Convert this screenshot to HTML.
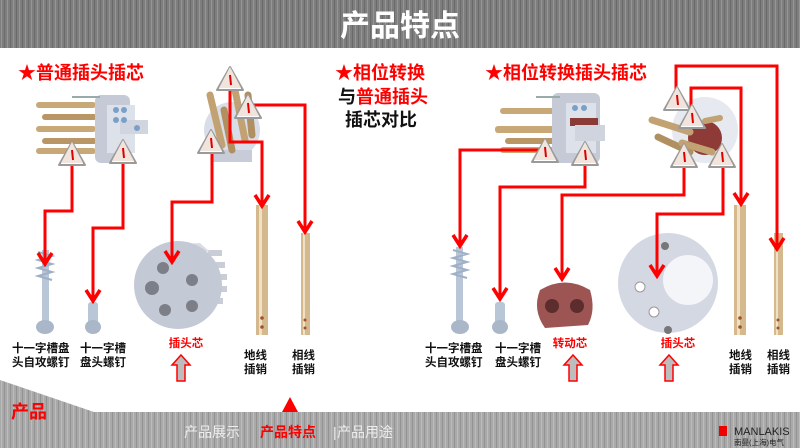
<!DOCTYPE html>
<html><head><meta charset="utf-8"><style>
html,body{margin:0;padding:0;width:800px;height:448px;overflow:hidden;background:#fff}
svg{display:block}
text{font-family:"Liberation Sans","Noto Sans CJK SC",sans-serif}
</style></head><body>
<svg width="800" height="448" viewBox="0 0 800 448" xmlns="http://www.w3.org/2000/svg">
<defs>
<pattern id="brush" width="6" height="48" patternUnits="userSpaceOnUse">
<rect width="6" height="48" fill="#7e7e7e"/>
<rect x="1" width="1" height="48" fill="#959595"/>
<rect x="4" width="1" height="48" fill="#6a6a6a"/>
</pattern>
<pattern id="brush2" width="6" height="48" patternUnits="userSpaceOnUse">
<rect width="6" height="48" fill="#a9a9a9"/>
<rect x="1" width="1" height="48" fill="#bcbcbc"/>
<rect x="4" width="1" height="48" fill="#939393"/>
</pattern>
<g id="warn"><path d="M0,-13 L13,10 L-13,10 Z" fill="#fff" stroke="#9a9a9a" stroke-width="2" stroke-linejoin="round"/><path d="M0,-13 L11,8 L-11,8 Z" fill="#f1e4dc"/><line x1="0" y1="-5" x2="1" y2="5" stroke="#d00" stroke-width="2"/></g>
</defs>

<!-- header -->
<rect x="0" y="0" width="800" height="48" fill="url(#brush)"/>
<text x="400" y="36" text-anchor="middle" font-size="30" font-weight="bold" fill="#fff">产品特点</text>

<!-- footer -->
<path d="M0,380 L94,412 L800,412 L800,448 L0,448 Z" fill="url(#brush2)"/>
<text x="11" y="418" font-size="18" font-weight="bold" fill="#f00">产品</text>
<path d="M290,397 L298,412 L282,412 Z" fill="#f00"/>
<text x="184" y="437" font-size="14" fill="#eee">产品展示</text>
<text x="260" y="437" font-size="14" font-weight="bold" fill="#f00">产品特点</text>
<text x="333" y="437" font-size="14" fill="#eee">|</text>
<text x="337" y="437" font-size="14" fill="#eee">产品用途</text>
<rect x="719" y="426" width="8" height="10" fill="#e00"/>
<text x="734" y="435" font-size="11" fill="#222">MANLAKIS</text>
<text x="734" y="445" font-size="7.5" fill="#222">南曼(上海)电气</text>

<!-- titles -->
<text x="18" y="79" font-size="18" font-weight="bold" fill="#f00">★普通插头插芯</text>
<text x="335" y="79" font-size="18" font-weight="bold" fill="#f00">★相位转换</text>
<text x="338" y="103" font-size="18" font-weight="bold" fill="#f00"><tspan fill="#111">与</tspan>普通插头</text>
<text x="345" y="126" font-size="18" font-weight="bold" fill="#111">插芯对比</text>
<text x="485" y="79" font-size="18" font-weight="bold" fill="#f00">★相位转换插头插芯</text>

<!-- LEFT top plug -->
<g>
<rect x="36" y="102" width="60" height="6" rx="3" fill="#c9a878"/>
<rect x="42" y="114" width="55" height="6" rx="3" fill="#b99665"/>
<rect x="36" y="126" width="60" height="6" rx="3" fill="#c9a878"/>
<rect x="42" y="138" width="55" height="6" rx="3" fill="#b99665"/>
<rect x="36" y="148" width="60" height="6" rx="3" fill="#c9a878"/>
<rect x="95" y="95" width="35" height="68" rx="6" fill="#c5cad6"/>
<rect x="107" y="105" width="28" height="48" fill="#dde1ea"/>
<rect x="120" y="120" width="28" height="14" fill="#d0d5e0"/>
<circle cx="116" cy="110" r="3" fill="#7aa0c8"/><circle cx="124" cy="110" r="3" fill="#7aa0c8"/>
<circle cx="116" cy="120" r="3" fill="#7aa0c8"/><circle cx="124" cy="120" r="3" fill="#7aa0c8"/>
<circle cx="137" cy="128" r="3" fill="#7aa0c8"/>
<line x1="72" y1="97" x2="100" y2="97" stroke="#9aa" stroke-width="2"/>
</g>
<!-- LEFT round plug -->
<g>
<circle cx="232" cy="130" r="28" fill="#d8dde8"/>
<rect x="212" y="150" width="40" height="12" fill="#c8ccd8"/>
<line x1="210" y1="95" x2="222" y2="145" stroke="#c2a273" stroke-width="7" stroke-linecap="round"/>
<line x1="224" y1="110" x2="232" y2="150" stroke="#b08f60" stroke-width="7" stroke-linecap="round"/>
<line x1="235" y1="90" x2="245" y2="140" stroke="#c2a273" stroke-width="7" stroke-linecap="round"/>
<line x1="248" y1="95" x2="252" y2="135" stroke="#b08f60" stroke-width="7" stroke-linecap="round"/>
</g>

<!-- RIGHT top plug -->
<g>
<rect x="500" y="108" width="55" height="6" rx="3" fill="#c9a878"/>
<rect x="495" y="126" width="60" height="7" rx="3" fill="#c9a878"/>
<rect x="505" y="138" width="50" height="6" rx="3" fill="#b99665"/>
<rect x="500" y="147" width="55" height="6" rx="3" fill="#c9a878"/>
<rect x="552" y="93" width="48" height="70" rx="6" fill="#c5cad6"/>
<rect x="566" y="103" width="30" height="50" fill="#dde1ea"/>
<rect x="570" y="118" width="28" height="8" fill="#8a3b35"/>
<rect x="575" y="125" width="30" height="16" fill="#cfd4df"/>
<circle cx="575" cy="108" r="3" fill="#7aa0c8"/><circle cx="584" cy="108" r="3" fill="#7aa0c8"/>
<line x1="536" y1="97" x2="560" y2="97" stroke="#9aa" stroke-width="2"/>
</g>
<!-- RIGHT round plug -->
<g>
<circle cx="705" cy="130" r="33" fill="#e6e9f0"/>
<circle cx="705" cy="138" r="17" fill="#8e3a36"/>
<line x1="652" y1="120" x2="690" y2="132" stroke="#c2a273" stroke-width="7" stroke-linecap="round"/>
<line x1="658" y1="137" x2="690" y2="152" stroke="#b08f60" stroke-width="7" stroke-linecap="round"/>
<line x1="682" y1="143" x2="712" y2="152" stroke="#c2a273" stroke-width="7" stroke-linecap="round"/>
<line x1="705" y1="121" x2="720" y2="118" stroke="#c2a273" stroke-width="6" stroke-linecap="round"/>
</g>

<!-- bottom parts LEFT -->
<g>
<rect x="42" y="250" width="7" height="72" fill="#b9c6d8"/>
<path d="M38,252 L52,256 L38,260 L52,264 L38,268 L52,272 L38,276 L52,280" stroke="#9fb0c6" stroke-width="2" fill="none"/>
<ellipse cx="45" cy="327" rx="9" ry="7" fill="#a9b7c9"/>
<rect x="88" y="302" width="10" height="22" rx="3" fill="#b9c6d8"/>
<ellipse cx="93" cy="327" rx="8" ry="7" fill="#a9b7c9"/>
<g fill="#c9cdd8">
<rect x="208" y="250" width="14" height="6"/><rect x="213" y="262" width="12" height="6"/>
<rect x="215" y="274" width="12" height="6"/><rect x="215" y="286" width="12" height="6"/>
<rect x="213" y="298" width="10" height="6"/>
</g>
<path d="M165,245 L200,243 L210,252 L200,250 Z" fill="#dadde6"/>
<circle cx="178" cy="285" r="44" fill="#c4c9d6"/>
<circle cx="163" cy="268" r="6" fill="#7c7f88"/><circle cx="192" cy="280" r="6" fill="#7c7f88"/>
<circle cx="152" cy="288" r="7" fill="#7c7f88"/><circle cx="165" cy="310" r="6" fill="#7c7f88"/>
<circle cx="192" cy="306" r="6" fill="#7c7f88"/>
<rect x="256" y="205" width="12" height="130" fill="#d4b98e"/><rect x="259" y="205" width="3" height="130" fill="#efe0c6"/>
<circle cx="262" cy="318" r="1.8" fill="#a0522d"/><circle cx="262" cy="327" r="1.8" fill="#a0522d"/>
<rect x="301" y="233" width="9" height="102" fill="#d4b98e"/><rect x="303" y="233" width="2" height="102" fill="#efe0c6"/>
<circle cx="305" cy="320" r="1.5" fill="#a0522d"/><circle cx="305" cy="328" r="1.5" fill="#a0522d"/>
</g>
<!-- bottom parts RIGHT -->
<g>
<rect x="456" y="247" width="7" height="78" fill="#b9c6d8"/>
<path d="M453,250 L467,254 L453,258 L467,262 L453,266 L467,270 L453,274 L467,278" stroke="#9fb0c6" stroke-width="2" fill="none"/>
<ellipse cx="460" cy="327" rx="9" ry="7" fill="#a9b7c9"/>
<rect x="495" y="302" width="10" height="22" rx="3" fill="#b9c6d8"/>
<ellipse cx="500" cy="327" rx="8" ry="7" fill="#a9b7c9"/>
<path d="M540,290 Q565,275 590,290 Q596,310 588,325 L545,328 Q532,310 540,290 Z" fill="#9c5552"/>
<circle cx="552" cy="306" r="7" fill="#5c2d2c"/><circle cx="577" cy="306" r="7" fill="#5c2d2c"/>
<circle cx="668" cy="283" r="50" fill="#d4d8e2"/>
<circle cx="688" cy="280" r="25" fill="#f4f5f8"/>
<circle cx="640" cy="287" r="5" fill="#fff" stroke="#999"/>
<circle cx="654" cy="312" r="5" fill="#fff" stroke="#999"/>
<circle cx="668" cy="330" r="4" fill="#777"/>
<circle cx="665" cy="246" r="4" fill="#777"/>
<rect x="734" y="205" width="12" height="130" fill="#d4b98e"/><rect x="737" y="205" width="3" height="130" fill="#efe0c6"/>
<circle cx="740" cy="318" r="1.8" fill="#a0522d"/><circle cx="740" cy="327" r="1.8" fill="#a0522d"/>
<rect x="774" y="233" width="9" height="102" fill="#d4b98e"/><rect x="776" y="233" width="2" height="102" fill="#efe0c6"/>
<circle cx="778" cy="320" r="1.5" fill="#a0522d"/><circle cx="778" cy="328" r="1.5" fill="#a0522d"/>
</g>

<!-- red connectors -->
<g fill="none" stroke="#f00" stroke-width="3" stroke-linejoin="miter">
<polyline points="72,160 72,211 45,211 45,262"/>
<polyline points="123,160 123,228 93,228 93,299"/>
<polyline points="212,150 212,202 172,202 172,260"/>
<polyline points="252,105 305,105 305,230"/>
<polyline points="230,85 230,142 262,142 262,204"/>
<polyline points="540,150 460,150 460,244"/>
<polyline points="585,165 585,187 500,187 500,297"/>
<polyline points="684,165 684,195 562,195 562,277"/>
<polyline points="723,165 723,214 657,214 657,274"/>
<polyline points="691,112 691,88 741,88 741,202"/>
<polyline points="676,95 676,66 777,66 777,247"/>
</g>
<g fill="none" stroke="#f00" stroke-width="3.5">
<polyline points="38,253 45,264 52,253"/>
<polyline points="86,290 93,301 100,290"/>
<polyline points="165,251 172,262 179,251"/>
<polyline points="298,221 305,232 312,221"/>
<polyline points="255,195 262,206 269,195"/>
<polyline points="453,235 460,246 467,235"/>
<polyline points="493,288 500,299 507,288"/>
<polyline points="555,268 562,279 569,268"/>
<polyline points="650,265 657,276 664,265"/>
<polyline points="734,193 741,204 748,193"/>
<polyline points="770,238 777,249 784,238"/>
</g>

<!-- warning triangles -->
<use href="#warn" x="72" y="155"/>
<use href="#warn" x="123" y="153"/>
<use href="#warn" x="230" y="80"/>
<use href="#warn" x="248" y="108"/>
<use href="#warn" x="211" y="143"/>
<use href="#warn" x="545" y="152"/>
<use href="#warn" x="585" y="155"/>
<use href="#warn" x="677" y="100"/>
<use href="#warn" x="692" y="118"/>
<use href="#warn" x="684" y="157"/>
<use href="#warn" x="722" y="157"/>

<!-- labels -->
<g font-size="11.5" font-weight="bold" fill="#111">
<text x="12" y="352">十一字槽盘</text><text x="12" y="366">头自攻螺钉</text>
<text x="80" y="352">十一字槽</text><text x="80" y="366">盘头螺钉</text>
<text x="244" y="359">地线</text><text x="244" y="373">插销</text>
<text x="292" y="359">相线</text><text x="292" y="373">插销</text>
<text x="425" y="352">十一字槽盘</text><text x="425" y="366">头自攻螺钉</text>
<text x="495" y="352">十一字槽</text><text x="495" y="366">盘头螺钉</text>
<text x="729" y="359">地线</text><text x="729" y="373">插销</text>
<text x="767" y="359">相线</text><text x="767" y="373">插销</text>
</g>
<g font-size="11.5" font-weight="bold" fill="#f00" text-anchor="middle">
<text x="186" y="347">插头芯</text>
<text x="570" y="347">转动芯</text>
<text x="678" y="347">插头芯</text>
</g>

<!-- hollow up arrows -->
<g fill="#bdbdbd" stroke="#f00" stroke-width="1.5">
<path d="M181,355 L190,365 L185,365 L185,381 L177,381 L177,365 L172,365 Z"/>
<path d="M573,355 L582,365 L577,365 L577,381 L569,381 L569,365 L564,365 Z"/>
<path d="M669,355 L678,365 L673,365 L673,381 L665,381 L665,365 L660,365 Z"/>
</g>
</svg>
</body></html>
